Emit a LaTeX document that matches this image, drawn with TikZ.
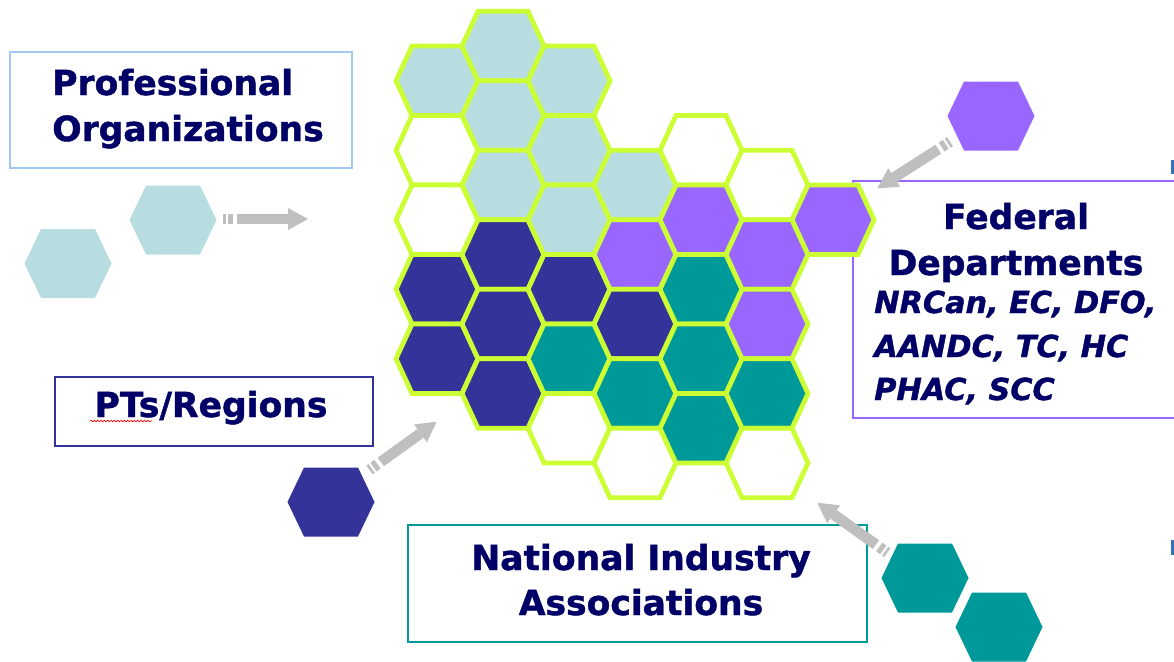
\documentclass[tikz,border=0pt]{standalone}
\usepackage{fontspec}
\setmainfont{DejaVu Sans}[BoldFeatures={FakeBold=1.3},BoldItalicFeatures={FakeBold=1.3}]
\usetikzlibrary{arrows.meta,decorations.pathmorphing,fit}
\definecolor{hxlime}{HTML}{CCFF33}
\definecolor{hxlb}{HTML}{B7DDE0}
\definecolor{hxnavy}{HTML}{333399}
\definecolor{hxpurple}{HTML}{9966FF}
\definecolor{hxteal}{HTML}{009999}
\definecolor{hxgray}{HTML}{BFBFBF}
\definecolor{hxtext}{HTML}{000066}
\definecolor{hxpoborder}{HTML}{A0C8F0}
\definecolor{hxblue}{HTML}{2E75B6}
\newcommand{\hexcell}[3]{\filldraw[gridhex,fill=#3] ({#1-41},{#2}) -- ({#1-25},{#2-34.75}) -- ({#1+25},{#2-34.75}) -- ({#1+41},{#2}) -- ({#1+25},{#2+34.75}) -- ({#1-25},{#2+34.75}) -- cycle;}
\newcommand{\hexfree}[3]{\fill[#3] ({#1-43.5},{#2}) -- ({#1-27},{#2-34.5}) -- ({#1+27},{#2-34.5}) -- ({#1+43.5},{#2}) -- ({#1+27},{#2+34.5}) -- ({#1-27},{#2+34.5}) -- cycle;}
\tikzset{
  gridhex/.style={draw=hxlime, line width=3.6pt},
  boxframe/.style={draw=#1, line width=2.2pt, inner sep=0pt, fill=white},
  hd/.style={font=\bfseries\fontsize{25.9}{34}\selectfont, text=hxtext, inner sep=0pt},
  hdi/.style={font=\bfseries\itshape\fontsize{22.7}{30}\selectfont, text=hxtext, inner sep=0pt},
  grayarrow/.style={draw=hxgray, line width=8pt,
    -{Triangle[width=16.5pt,length=15pt,line width=0pt]},
    dash pattern=on 2pt off 1.7pt on 3.75pt off 3pt on 400pt}
}
\begin{document}
\begin{tikzpicture}[x=0.75pt,y=-0.75pt]
\useasboundingbox (0,0) rectangle (1174,661);
\clip (0,0) rectangle (1174,661);
% boxes
\node[boxframe=hxpoborder, fit={(10,52) (352,168)}] (pobox) {};
\node[boxframe=hxnavy, fit={(55,377) (373,446)}] (ptbox) {};
\node[boxframe=hxpurple, fit={(853,181) (1190,418)}] (fedbox) {};
\node[boxframe=hxteal, fit={(408,525) (867,642)}] (natbox) {};
% texts
\node[hd, anchor=base west] (po1) at (52,95) {Professional};
\node[hd, anchor=base west] (po2) at (52,141) {Organizations};
\node[hd, anchor=base] (pt1) at (211,417) {PTs/Regions};
\node[hd, anchor=base] (fd1) at (1016,229) {Federal};
\node[hd, anchor=base] (fd2) at (1016,275) {Departments};
\node[hdi, anchor=base west] (fd3) at (874,313) {NRCan, EC, DFO,};
\node[hdi, anchor=base west] (fd4) at (874,357) {AANDC, TC, HC};
\node[hdi, anchor=base west] (fd5) at (874,400) {PHAC, SCC};
\node[hd, anchor=base] (na1) at (641,570) {National Industry};
\node[hd, anchor=base] (na2) at (641,615) {Associations};
\coordinate (ws1) at (90,421);
\coordinate (ws2) at (152,421);
\draw[red, line width=0.5pt, decorate, decoration={snake, amplitude=0.6pt, segment length=2.5pt}] (ws1) -- (ws2);
% grid
\hexcell{437}{80.75}{hxlb}
\hexcell{437}{150.25}{white}
\hexcell{437}{219.75}{white}
\hexcell{437}{289.25}{hxnavy}
\hexcell{437}{358.75}{hxnavy}
\hexcell{503}{46}{hxlb}
\hexcell{503}{115.5}{hxlb}
\hexcell{503}{185}{hxlb}
\hexcell{503}{254.5}{hxnavy}
\hexcell{503}{324}{hxnavy}
\hexcell{503}{393.5}{hxnavy}
\hexcell{569}{80.75}{hxlb}
\hexcell{569}{150.25}{hxlb}
\hexcell{569}{219.75}{hxlb}
\hexcell{569}{289.25}{hxnavy}
\hexcell{569}{358.75}{hxteal}
\hexcell{569}{428.25}{white}
\hexcell{635}{185}{hxlb}
\hexcell{635}{254.5}{hxpurple}
\hexcell{635}{324}{hxnavy}
\hexcell{635}{393.5}{hxteal}
\hexcell{635}{463}{white}
\hexcell{701}{150.25}{white}
\hexcell{701}{219.75}{hxpurple}
\hexcell{701}{289.25}{hxteal}
\hexcell{701}{358.75}{hxteal}
\hexcell{701}{428.25}{hxteal}
\hexcell{767}{185}{white}
\hexcell{767}{254.5}{hxpurple}
\hexcell{767}{324}{hxpurple}
\hexcell{767}{393.5}{hxteal}
\hexcell{767}{463}{white}
\hexcell{833}{219.75}{hxpurple}
% loose hexagons
\hexfree{173}{220}{hxlb}
\hexfree{68}{263.5}{hxlb}
\hexfree{991}{116}{hxpurple}
\hexfree{331}{502}{hxnavy}
\hexfree{925}{578}{hxteal}
\hexfree{999}{627}{hxteal}
% arrows
\coordinate (a1s) at (223,219);
\coordinate (a1e) at (308,219);
\coordinate (a2s) at (369.5,470);
\coordinate (a2e) at (436.7,421.7);
\coordinate (a3s) at (950,141.7);
\coordinate (a3e) at (877.3,188.3);
\coordinate (a4s) at (887.3,552.7);
\coordinate (a4e) at (817.3,502.7);
\draw[grayarrow] (a1s) -- (a1e);
\draw[grayarrow] (a2s) -- (a2e);
\draw[grayarrow] (a3s) -- (a3e);
\draw[grayarrow] (a4s) -- (a4e);
% edge marks
\fill[hxblue] (1171,160) rectangle (1176,174);
\fill[hxblue] (1171,540) rectangle (1176,555);
\end{tikzpicture}
\end{document}
